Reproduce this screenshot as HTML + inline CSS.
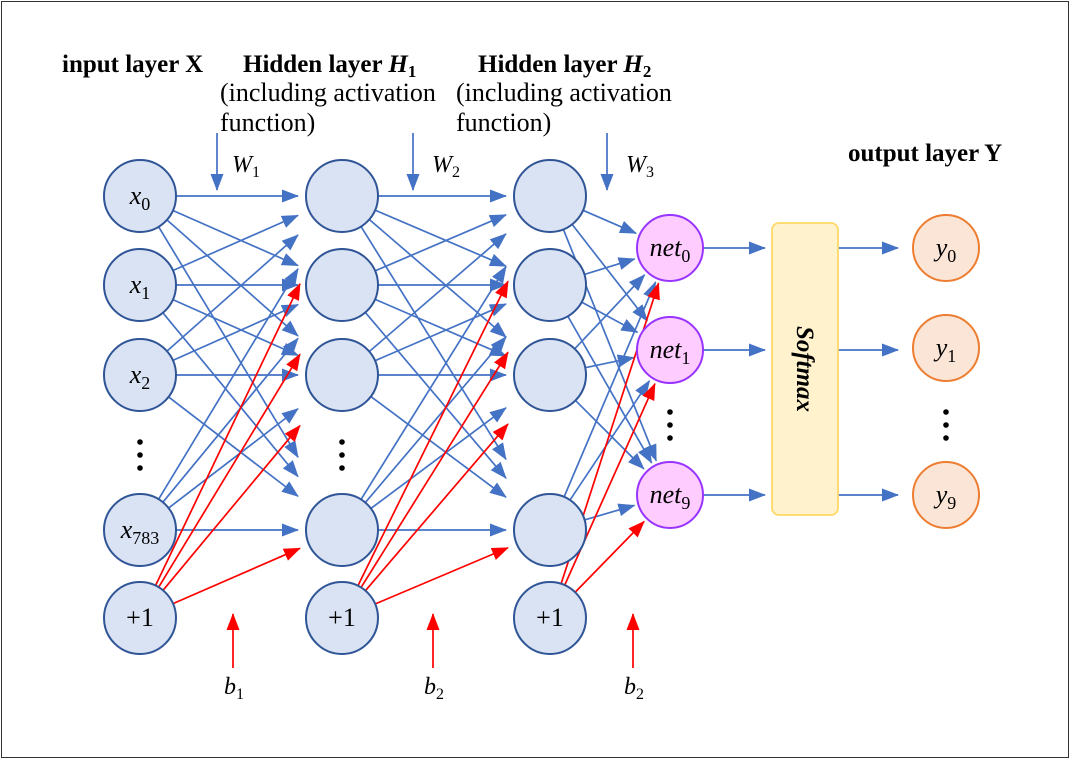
<!DOCTYPE html>
<html><head><meta charset="utf-8"><style>
html,body{margin:0;padding:0;background:#fff}
svg{display:block}
text{font-family:"Liberation Serif",serif;fill:#000}
</style></head><body>
<svg id="s" width="1070" height="759" viewBox="0 0 1070 759" xmlns="http://www.w3.org/2000/svg">
<defs>
<marker id="ab" markerWidth="17" markerHeight="13" refX="16" refY="6.5" orient="auto" markerUnits="userSpaceOnUse"><path d="M0,0 L17,6.5 L0,13 Z" fill="#4472C4"/></marker>
<marker id="ar" markerWidth="17" markerHeight="13" refX="16" refY="6.5" orient="auto" markerUnits="userSpaceOnUse"><path d="M0,0 L17,6.5 L0,13 Z" fill="#FF0000"/></marker>
</defs>
<rect x="1.5" y="1.5" width="1067" height="756" fill="none" stroke="#333" stroke-width="1"/>
<g id="edges"></g>
<g id="nodes"></g>
<text x="62" y="72" font-size="25" font-weight="bold">input layer X</text>
<text x="243" y="72" font-size="25" font-weight="bold">Hidden layer <tspan font-style="italic">H</tspan><tspan font-size="17" dy="5">1</tspan></text>
<text x="220" y="101" font-size="26">(including activation</text>
<text x="220" y="131" font-size="26">function)</text>
<text x="478" y="72" font-size="25" font-weight="bold">Hidden layer <tspan font-style="italic">H</tspan><tspan font-size="17" dy="5">2</tspan></text>
<text x="456" y="101" font-size="26">(including activation</text>
<text x="456" y="131" font-size="26">function)</text>
<text x="848" y="161" font-size="25" font-weight="bold">output layer Y</text>
<text x="232" y="172" font-size="24" font-style="italic">W<tspan font-size="16" dy="5" font-style="normal">1</tspan></text>
<text x="432" y="172" font-size="24" font-style="italic">W<tspan font-size="16" dy="5" font-style="normal">2</tspan></text>
<text x="626" y="172" font-size="24" font-style="italic">W<tspan font-size="16" dy="5" font-style="normal">3</tspan></text>
<text x="224" y="694" font-size="24" font-style="italic">b<tspan font-size="16" dy="5" font-style="normal">1</tspan></text>
<text x="424" y="694" font-size="24" font-style="italic">b<tspan font-size="16" dy="5" font-style="normal">2</tspan></text>
<text x="624" y="694" font-size="24" font-style="italic">b<tspan font-size="16" dy="5" font-style="normal">2</tspan></text>
<rect x="772" y="223" width="66" height="292" rx="7" fill="#FFF2CC" stroke="#FFD966" stroke-width="1.8"/>
<text transform="translate(797,369) rotate(90)" text-anchor="middle" font-size="25" font-weight="bold" font-style="italic">Softmax</text>
</svg>
<script>
var NS="http://www.w3.org/2000/svg";
var E=document.getElementById("edges"),N=document.getElementById("nodes");
function el(p,t,a){var e=document.createElementNS(NS,t);for(var k in a)e.setAttribute(k,a[k]);p.appendChild(e);return e;}
function line(x1,y1,x2,y2,red){el(E,"line",{x1:x1,y1:y1,x2:x2,y2:y2,stroke:red?"#FF0000":"#4472C4","stroke-width":1.7,"marker-end":red?"url(#ar)":"url(#ab)"});}
function connX(s,t,rs,endx,red){var dx=t[0]-s[0],dy=t[1]-s[1],L=Math.hypot(dx,dy),ux=dx/L,uy=dy/L;
 var sx=s[0]+ux*rs,sy=s[1]+uy*rs;var k=(endx-sx)/ux;line(sx,sy,endx,sy+uy*k,red);}
function conn(s,t,rs,rt,red){var dx=t[0]-s[0],dy=t[1]-s[1],L=Math.hypot(dx,dy),ux=dx/L,uy=dy/L;line(s[0]+ux*rs,s[1]+uy*rs,t[0]-ux*(rt+4),t[1]-uy*(rt+4),red);}
var ys=[196,285,375,530],yb=618;
var L1=140,L2=342,L3=550;
var nets=[[670,248],[670,350],[670,495]];
[[L1,L2],[L2,L3]].forEach(function(p){
 ys.forEach(function(sy){ys.forEach(function(ty){connX([p[0],sy],[p[1],ty],36,p[1]-44,false);});});
 ys.forEach(function(ty){connX([p[0],yb],[p[1],ty],36,p[1]-42,true);});
});
ys.forEach(function(sy){nets.forEach(function(n){conn([L3,sy],n,36,33,false);});});
nets.forEach(function(n){conn([L3,yb],n,36,33,true);});
nets.forEach(function(n){line(704,n[1],765,n[1],false);line(838,n[1],898,n[1],false);});
[217,413,607].forEach(function(x){line(x,133,x,190,false);});
[233,433,633].forEach(function(x){line(x,668,x,614,true);});
function circ(x,y,r,f,s,t,sub){el(N,"circle",{cx:x,cy:y,r:r,fill:f,stroke:s,"stroke-width":2});
 if(t!==undefined){var tx=el(N,"text",{x:x,y:y+8,"text-anchor":"middle","font-size":26});
  if(sub!==undefined){var a=el(tx,"tspan",{"font-style":"italic"});a.textContent=t;var b=el(tx,"tspan",{"font-size":18,dy:6});b.textContent=sub;}
  else tx.textContent=t;}}
var nf="#DAE3F3",ns="#2F5597";
circ(L1,196,36,nf,ns,"x","0");circ(L1,285,36,nf,ns,"x","1");circ(L1,375,36,nf,ns,"x","2");circ(L1,530,36,nf,ns,"x","783");circ(L1,618,36,nf,ns,"+1");
[L2,L3].forEach(function(x){ys.forEach(function(y){circ(x,y,36,nf,ns);});circ(x,618,36,nf,ns,"+1");});
circ(670,248,33,"#FFCCFF","#9933FF","net","0");circ(670,350,33,"#FFCCFF","#9933FF","net","1");circ(670,495,33,"#FFCCFF","#9933FF","net","9");
circ(946,248,33,"#FBE5D6","#ED7D31","y","0");circ(946,348,33,"#FBE5D6","#ED7D31","y","1");circ(946,495,33,"#FBE5D6","#ED7D31","y","9");
function dots(x,y){[-13,0,13].forEach(function(d){el(N,"circle",{cx:x,cy:y+d,r:2.8,fill:"#000"});});}
dots(140,455);dots(342,455);dots(670,425);dots(946,425);
</script>
</body></html>
